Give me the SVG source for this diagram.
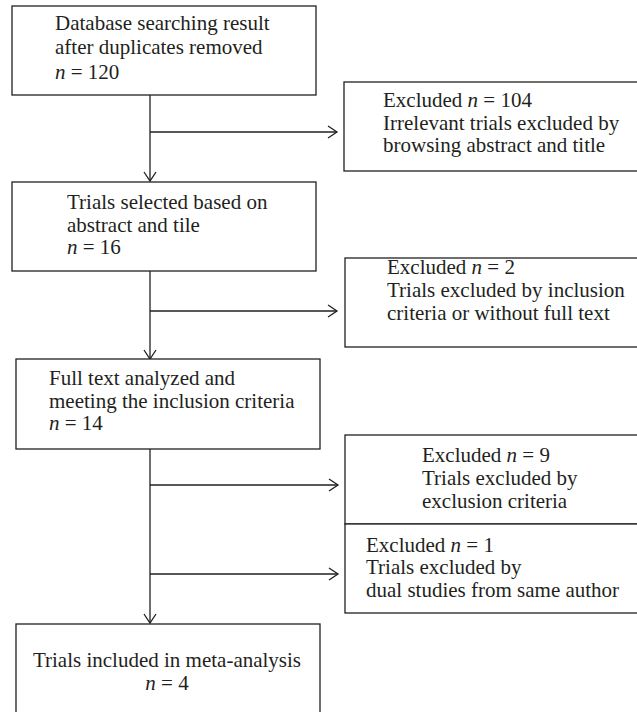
<svg xmlns="http://www.w3.org/2000/svg" width="637" height="712" viewBox="0 0 637 712">
<defs>
<style>
.box{fill:#fff;stroke:#231f20;stroke-width:1.3}
.ln{fill:none;stroke:#231f20;stroke-width:1.3}
text{font-family:"Liberation Serif","Times New Roman",serif;font-size:21px;fill:#231f20}
.i{font-style:italic}
</style>
<marker id="arr" markerWidth="12" markerHeight="14" refX="10" refY="7" orient="auto" markerUnits="userSpaceOnUse">
<path d="M1,1 L10,7 L1,13" fill="none" stroke="#231f20" stroke-width="1.3"/>
</marker>
</defs>
<rect width="637" height="712" fill="#fff"/>
<g id="connectors">
<line class="ln" x1="150" y1="95" x2="150" y2="181" marker-end="url(#arr)"/>
<line class="ln" x1="150" y1="132" x2="337" y2="132" marker-end="url(#arr)"/>
<line class="ln" x1="150" y1="271" x2="150" y2="359" marker-end="url(#arr)"/>
<line class="ln" x1="150" y1="311" x2="337" y2="311" marker-end="url(#arr)"/>
<line class="ln" x1="150" y1="449" x2="150" y2="623" marker-end="url(#arr)"/>
<line class="ln" x1="150" y1="485" x2="338" y2="485" marker-end="url(#arr)"/>
<line class="ln" x1="150" y1="574" x2="338" y2="574" marker-end="url(#arr)"/>
</g>
<g id="n1">
<rect class="box" x="12" y="6" width="304" height="89"/>
<text x="55" y="30">Database searching result</text>
<text x="55" y="54">after duplicates removed</text>
<text x="55" y="79"><tspan class="i">n</tspan> = 120</text>
</g>
<g id="e1">
<rect class="box" x="344" y="82" width="300" height="89"/>
<text x="383" y="107">Excluded <tspan class="i">n</tspan> = 104</text>
<text x="383" y="130">Irrelevant trials excluded by</text>
<text x="383" y="152">browsing abstract and title</text>
</g>
<g id="n2">
<rect class="box" x="12" y="182" width="304" height="89"/>
<text x="67" y="209">Trials selected based on</text>
<text x="67" y="232">abstract and tile</text>
<text x="67" y="254"><tspan class="i">n</tspan> = 16</text>
</g>
<g id="e2">
<rect class="box" x="345" y="258" width="300" height="89"/>
<text x="387" y="274">Excluded <tspan class="i">n</tspan> = 2</text>
<text x="387" y="297">Trials excluded by inclusion</text>
<text x="387" y="320">criteria or without full text</text>
</g>
<g id="n3">
<rect class="box" x="16" y="359" width="304" height="90"/>
<text x="49" y="385">Full text analyzed and</text>
<text x="49" y="408">meeting the inclusion criteria</text>
<text x="49" y="430"><tspan class="i">n</tspan> = 14</text>
</g>
<g id="e3">
<rect class="box" x="345" y="435" width="300" height="89"/>
<text x="422" y="462">Excluded <tspan class="i">n</tspan> = 9</text>
<text x="422" y="485">Trials excluded by</text>
<text x="422" y="508">exclusion criteria</text>
</g>
<g id="e4">
<rect class="box" x="345" y="524" width="300" height="89"/>
<text x="366" y="552">Excluded <tspan class="i">n</tspan> = 1</text>
<text x="366" y="574">Trials excluded by</text>
<text x="366" y="597">dual studies from same author</text>
</g>
<g id="n4">
<rect class="box" x="16" y="624" width="304" height="100"/>
<text x="167" y="667" text-anchor="middle">Trials included in meta-analysis</text>
<text x="167" y="690" text-anchor="middle"><tspan class="i">n</tspan> = 4</text>
</g>
</svg>
